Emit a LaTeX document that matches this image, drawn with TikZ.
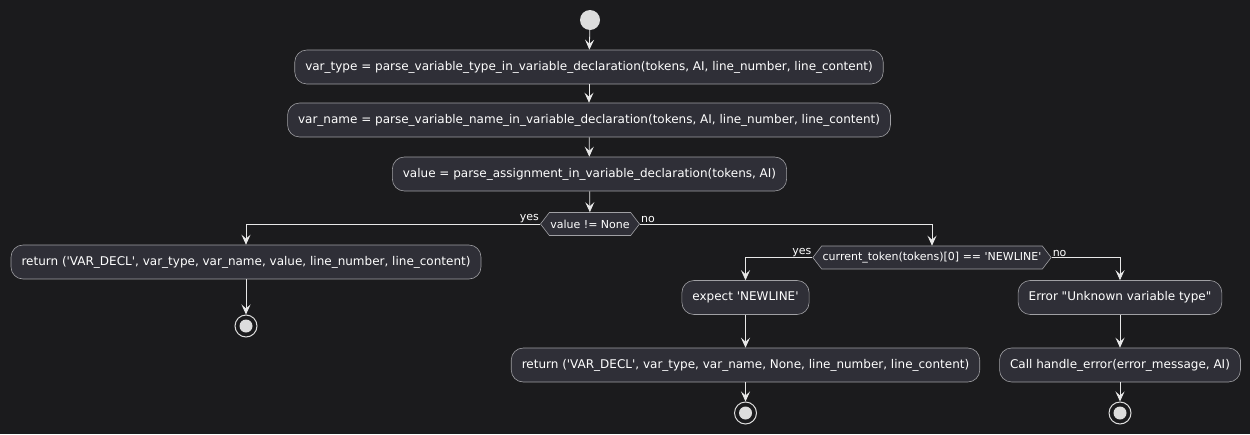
\documentclass[tikz,border=0pt]{standalone}
\usepackage{fontspec}
\setmainfont{DejaVu Sans}[Ligatures=TeXOff]
\usetikzlibrary{arrows.meta,shapes.symbols}
\definecolor{bg}{HTML}{1B1B1D}
\definecolor{boxfill}{HTML}{2F2F37}
\definecolor{boxline}{HTML}{A0A0A4}
\definecolor{linec}{HTML}{E8E8E8}
\definecolor{dotc}{HTML}{DDDDDD}
\begin{document}
\begin{tikzpicture}[x=1pt,y=-1pt,
  act/.style={draw=boxline, fill=boxfill, rounded corners=12pt, minimum height=34pt,
    inner xsep=10.5pt, text=white, font=\fontsize{12}{14}\selectfont, line width=0.6pt},
  dec/.style={draw=boxline, fill=boxfill, signal, signal to=east and west,
    signal pointer angle=105, minimum height=23pt, inner xsep=1pt, inner ysep=0pt,
    text=white, font=\fontsize{11}{13}\selectfont, line width=0.6pt},
  flow/.style={draw=linec, line width=0.8pt, -{Stealth[length=10pt,width=9pt,inset=4pt]}},
  lbl/.style={text=white, font=\fontsize{11}{13}\selectfont, inner sep=1pt},
  startdot/.style={circle, fill=dotc, minimum size=20pt, inner sep=0pt},
  enddot/.style={circle, draw=dotc, line width=1pt, fill=bg, minimum size=22pt, inner sep=0pt,
    path picture={\fill[dotc] (path picture bounding box.center) circle (6.5pt);}}
]
\fill[bg] (0,0) rectangle (1250,434);
\useasboundingbox (0,0) rectangle (1250,434);

\node[startdot] (start) at (590,20) {};
\node[act] (a1) at (589,67) {var\_type = parse\_variable\_type\_in\_variable\_declaration(tokens, AI, line\_number, line\_content)};
\node[act] (a2) at (589,120) {var\_name = parse\_variable\_name\_in\_variable\_declaration(tokens, AI, line\_number, line\_content)};
\node[act] (a3) at (589.5,174) {value = parse\_assignment\_in\_variable\_declaration(tokens, AI)};
\node[dec] (d1) at (590,224) {value != None};
\node[act] (a4) at (246,262) {return ('VAR\_DECL', var\_type, var\_name, value, line\_number, line\_content)};
\node[enddot] (e1) at (246,326) {};
\node[dec] (d2) at (932,257.5) {current\_token(tokens)[0] == 'NEWLINE'};
\node[act] (a5) at (745.5,297.5) {expect 'NEWLINE'};
\node[act] (a6) at (1120,297.5) {Error "Unknown variable type"};
\node[act] (a7) at (745.5,365) {return ('VAR\_DECL', var\_type, var\_name, None, line\_number, line\_content)};
\node[act] (a8) at (1120,365) {Call handle\_error(error\_message, AI)};
\node[enddot] (e2) at (745.5,413) {};
\node[enddot] (e3) at (1120,413) {};

\draw[flow] (start) -- (a1);
\draw[flow] (a1) -- (a2);
\draw[flow] (a2) -- (a3);
\draw[flow] (a3) -- (d1);
\draw[flow] (d1.west) -| (a4.north);
\draw[flow] (d1.east) -| (d2.north);
\draw[flow] (a4) -- (e1);
\draw[flow] (d2.west) -| (a5.north);
\draw[flow] (d2.east) -| (a6.north);
\draw[flow] (a5) -- (a7);
\draw[flow] (a6) -- (a8);
\draw[flow] (a7) -- (e2);
\draw[flow] (a8) -- (e3);

\node[lbl, anchor=south east] (y1) at (d1.west) {yes};
\node[lbl, anchor=south west] (n1) at (d1.east) {no};
\node[lbl, anchor=south east] (y2) at (d2.west) {yes};
\node[lbl, anchor=south west] (n2) at (d2.east) {no};
\end{tikzpicture}
\end{document}
